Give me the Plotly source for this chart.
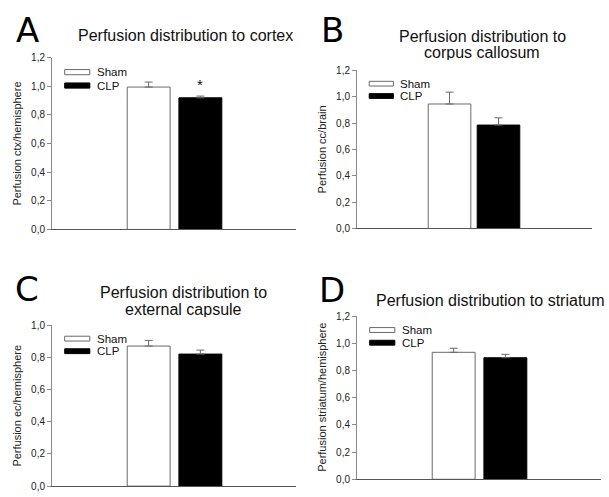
import plotly.graph_objects as go

groups = ["Sham", "CLP"]
panel_letters = ["A", "B", "C", "D"]
panel_titles = [
    ["Perfusion distribution to cortex"],
    ["Perfusion distribution to", "corpus callosum"],
    ["Perfusion distribution to", "external capsule"],
    ["Perfusion distribution to striatum"],
]
y_titles = [
    "Perfusion ctx/hemisphere",
    "Perfusion cc/brain",
    "Perfusion ec/hemisphere",
    "Perfusion striatum/hemisphere",
]
sham_values = [0.995, 0.945, 0.87, 0.935]
sham_errors = [0.035, 0.09, 0.035, 0.03]
clp_values = [0.92, 0.785, 0.82, 0.895]
clp_errors = [0.012, 0.055, 0.025, 0.025]
y_max = [1.2, 1.2, 1.0, 1.2]
y_dtick = [0.2, 0.2, 0.2, 0.2]
significant = [True, False, False, False]

W, H = 609, 497

def px(x):
    return x / W

def py(y):
    return 1 - y / H

# axis placement: (x_left, x_right, y_bottom, y_top) in pixels
axis_px = [
    (52, 296, 229, 53),
    (357, 592, 228, 66),
    (52, 296, 492, 327),
    (357, 601, 485, 318),
]
x_ranges = [
    [-1.87, 2.85],
    [-1.89, 2.91],
    [-1.87, 2.85],
    [-1.87, 2.85],
]
bar_widths = [0.83, 0.87, 0.83, 0.83]
title_x = [185, 482, 183, 490]
title_line_y = [[30], [31, 48], [294, 311], [302]]
letter_pos = [(27, 25), (332, 25), (27, 290), (332, 291)]
ytitle_x = [17, 322, 17, 322]

fig = go.Figure()
font_main = "Liberation Sans, Arial, sans-serif"
axis_color = "#8a8a8a"
edge = "#6a6a6a"

for i in range(4):
    n = "" if i == 0 else str(i + 1)
    xa, ya = "x" + n, "y" + n
    xl, xr, yb, yt = axis_px[i]
    fig.add_trace(go.Bar(
        x=[groups[0]], y=[sham_values[i]], name=groups[0], xaxis=xa, yaxis=ya,
        width=bar_widths[i], marker=dict(color="white", line=dict(color=edge, width=1)),
        error_y=dict(type="data", symmetric=False, array=[sham_errors[i]], arrayminus=[0],
                     color=edge, thickness=1, width=4),
        showlegend=False,
    ))
    fig.add_trace(go.Bar(
        x=[groups[1]], y=[clp_values[i]], name=groups[1], xaxis=xa, yaxis=ya,
        width=bar_widths[i], marker=dict(color="black", line=dict(color="black", width=1)),
        error_y=dict(type="data", symmetric=False, array=[clp_errors[i]], arrayminus=[0],
                     color=edge, thickness=1, width=4),
        showlegend=False,
    ))
    fig.update_layout(**{
        "xaxis" + n: dict(domain=[px(xl), px(xr)], range=x_ranges[i], showticklabels=False,
                          ticks="", showgrid=False, zeroline=False, showline=True,
                          linecolor="#555555", linewidth=1, anchor=ya, fixedrange=True),
        "yaxis" + n: dict(domain=[py(yb), py(yt)], range=[0, y_max[i]], dtick=y_dtick[i],
                          tick0=0, tickformat=".1f", ticks="outside", ticklen=4,
                          tickcolor=axis_color, showgrid=False, zeroline=False,
                          showline=True, linecolor=axis_color, linewidth=1, anchor=xa,
                          tickfont=dict(size=10, color="#222222", family=font_main)),
    })
    # legend swatches
    dx, dy = xa + " domain", ya + " domain"
    for j, (fill, line, yc) in enumerate([("white", edge, 0.916), ("black", "black", 0.838)]):
        fig.add_shape(type="rect", xref=dx, yref=dy, x0=0.052, x1=0.155,
                      y0=yc - 0.015, y1=yc + 0.015, fillcolor=fill,
                      line=dict(color=line, width=1))
        fig.add_annotation(xref=dx, yref=dy, x=0.18, y=yc, text=groups[j], showarrow=False,
                           xanchor="left", yanchor="middle", borderpad=0,
                           font=dict(size=11.5, color="#111111", family=font_main))
    if significant[i]:
        fig.add_annotation(xref=xa, yref=ya, x=groups[1], y=clp_values[i] + clp_errors[i] + 0.01,
                           text="*", showarrow=False, yanchor="bottom",
                           font=dict(size=15, color="#111111", family=font_main))
    for line_text, ly_px in zip(panel_titles[i], title_line_y[i]):
        fig.add_annotation(xref="paper", yref="paper", x=px(title_x[i]), y=py(ly_px),
                           text=line_text, showarrow=False, xanchor="center", yanchor="middle",
                           height=15, borderpad=0,
                           font=dict(size=16, color="#111111", family=font_main))
    lx, ly = letter_pos[i]
    fig.add_annotation(xref="paper", yref="paper", x=px(lx), y=py(ly), text=panel_letters[i],
                       showarrow=False, xanchor="center", yanchor="middle",
                       font=dict(size=34, color="black", family="DejaVu Sans"))
    fig.add_annotation(xref="paper", yref="paper", x=px(ytitle_x[i]), y=py((yb + yt) / 2),
                       text=y_titles[i], showarrow=False, textangle=-90,
                       xanchor="center", yanchor="middle",
                       font=dict(size=11, color="#222222", family=font_main))

fig.update_layout(
    width=W, height=H, margin=dict(l=0, r=0, t=0, b=0),
    paper_bgcolor="white", plot_bgcolor="white", barmode="overlay",
    separators=",.", showlegend=False,
)
fig.write_html("out.html", config={"displayModeBar": False},
               post_script="document.body.style.margin='0px';document.body.style.overflow='hidden';")
